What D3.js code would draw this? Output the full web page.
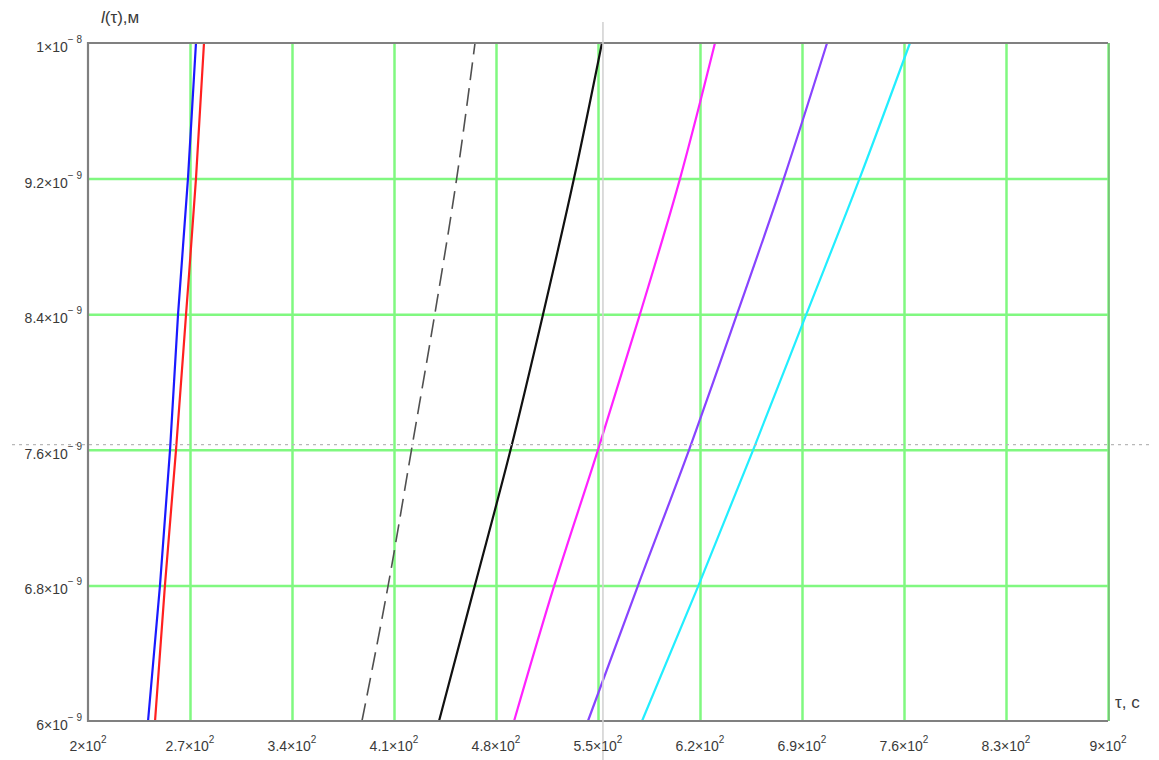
<!DOCTYPE html>
<html>
<head>
<meta charset="utf-8">
<script src="https://cdn.jsdelivr.net/npm/d3@7"></script>
<style>
	body { margin: 0; background: #FFFFFF; }
	text { font-family: "Liberation Sans", Arial, sans-serif; fill: #3a3a3a; }
</style>
</head>
<body>
<div id="vis_container"></div>
<script>
// y levels where the curves were read (metres)
var levels = [6.0e-9, 6.8e-9, 7.6e-9, 8.4e-9, 9.2e-9, 1.0e-8];

// tau (s) at each level, one array per curve
var blueCurve    = [241.2, 249.4, 256.3, 261.8, 268.6, 274.1];
var redCurve     = [246.0, 252.8, 260.4, 267.3, 274.1, 279.6];
var dashedCurve  = [388.0, 406.0, 422.0, 438.0, 453.0, 465.6];
var blackCurve   = [440.9, 465.5, 490.0, 512.3, 533.5, 552.7];
var magentaCurve = [492.4, 520.0, 550.0, 578.8, 606.3, 630.3];
var purpleCurve  = [543.1, 577.5, 612.5, 645.4, 677.5, 707.2];
var cyanCurve    = [580.2, 619.0, 656.5, 693.0, 729.5, 764.1];

var xTicks = [200, 270, 340, 410, 480, 550, 620, 690, 760, 830, 900];
var xTickMant = ["2", "2.7", "3.4", "4.1", "4.8", "5.5", "6.2", "6.9", "7.6", "8.3", "9"];
var yTicks = [6.0e-9, 6.8e-9, 7.6e-9, 8.4e-9, 9.2e-9, 1.0e-8];
var yTickMant = ["6", "6.8", "7.6", "8.4", "9.2", "1"];
var yTickExp = ["\u2212 9", "\u2212 9", "\u2212 9", "\u2212 9", "\u2212 9", "\u2212 8"];

// trace cursor position
var traceX = 553.4;
var traceY = 7.63e-9;

var chart = {};
chart.width = 1159;
chart.height = 760;
chart.margin = {"top": 43, "left": 88, "right": 51, "bottom": 39};

chart.svg = d3.select("#vis_container").append("svg")
	.attr("width", chart.width)
	.attr("height", chart.height)
	.style("background-color", "#FFFFFF");

chart.x = d3.scaleLinear()
	.domain([200, 900])
	.range([chart.margin.left, chart.width - chart.margin.right]);
chart.y = d3.scaleLinear()
	.domain([6e-9, 1e-8])
	.range([chart.height - chart.margin.bottom, chart.margin.top]);

var plotW = chart.x.range()[1] - chart.x.range()[0];
var plotH = chart.y.range()[0] - chart.y.range()[1];

// grid via axes (inner lines only, plus the right edge)
var gx = chart.svg.append("g")
	.attr("transform", "translate(0," + chart.y.range()[0] + ")")
	.call(d3.axisBottom(chart.x).tickValues(xTicks.slice(1)).tickSize(-plotH).tickFormat(""));
var gy = chart.svg.append("g")
	.attr("transform", "translate(" + chart.x.range()[0] + ",0)")
	.call(d3.axisLeft(chart.y).tickValues(yTicks.slice(1, -1)).tickSize(-plotW).tickFormat(""));
[gx, gy].forEach(function(g) {
	g.select(".domain").remove();
	g.selectAll(".tick line").attr("stroke", "#80f880").attr("stroke-width", 2.5);
});

// curves
var line = d3.line()
	.x(function(d) { return chart.x(d[0]); })
	.y(function(d) { return chart.y(d[1]); })
	.curve(d3.curveMonotoneY);

var curves = [
	{data: blueCurve, color: "#1a1aff", width: 2.2},
	{data: redCurve, color: "#ff2020", width: 2.2},
	{data: dashedCurve, color: "#505050", width: 1.6, dash: "18,8"},
	{data: blackCurve, color: "#111111", width: 2.2},
	{data: magentaCurve, color: "#ff22ff", width: 2.2},
	{data: purpleCurve, color: "#8844ff", width: 2.2},
	{data: cyanCurve, color: "#22eeff", width: 2.2}
];
curves.forEach(function(c) {
	chart.svg.append("path")
		.datum(c.data.map(function(v, i) { return [v, levels[i]]; }))
		.attr("d", line)
		.attr("fill", "none")
		.attr("stroke", c.color)
		.attr("stroke-width", c.width)
		.attr("stroke-dasharray", c.dash || null);
});

// frame: left, top, bottom gray; right edge keeps the green grid line
var x0 = chart.x.range()[0], x1 = chart.x.range()[1];
var y0 = chart.y.range()[0], y1 = chart.y.range()[1];
chart.svg.append("path")
	.attr("d", "M" + x1 + "," + y1 + "H" + x0 + "V" + y0 + "H" + x1)
	.attr("fill", "none")
	.attr("stroke", "#808080")
	.attr("stroke-width", 2.2);
chart.svg.append("line")
	.attr("x1", x1 + 1).attr("x2", x1 + 1)
	.attr("y1", y1).attr("y2", y0)
	.attr("stroke", "#6a9a6a").attr("stroke-width", 1);

// trace crosshair
chart.svg.append("line")
	.attr("x1", 12).attr("x2", 1150)
	.attr("y1", chart.y(traceY)).attr("y2", chart.y(traceY))
	.attr("stroke", "#b8b8b8").attr("stroke-width", 1.2)
	.attr("stroke-dasharray", "3,4");
chart.svg.append("line")
	.attr("x1", chart.x(traceX)).attr("x2", chart.x(traceX))
	.attr("y1", 22).attr("y2", 760)
	.attr("stroke", "#d0d0d0").attr("stroke-width", 1.5);

// tick labels
xTicks.forEach(function(t, i) {
	var txt = chart.svg.append("text")
		.attr("x", chart.x(t))
		.attr("y", 751)
		.attr("text-anchor", "middle")
		.attr("font-size", 14);
	txt.append("tspan").text(xTickMant[i] + "\u00d710");
	txt.append("tspan").attr("dy", -8).attr("font-size", 10).text("2");
});
yTicks.forEach(function(t, i) {
	var txt = chart.svg.append("text")
		.attr("x", chart.x.range()[0] - 6)
		.attr("y", chart.y(t) + 9)
		.attr("text-anchor", "end")
		.attr("font-size", 14);
	txt.append("tspan").text(yTickMant[i] + "\u00d710");
	txt.append("tspan").attr("dy", -9).attr("font-size", 10).text(yTickExp[i]);
});

// axis titles
var yt = chart.svg.append("text")
	.attr("x", 101)
	.attr("y", 23)
	.attr("font-size", 17)
	.attr("font-family", "Liberation Serif, serif");
yt.append("tspan").attr("font-style", "italic").text("l");
yt.append("tspan").text("(\u03c4),\u043c");

chart.svg.append("text")
	.attr("x", 1115)
	.attr("y", 708)
	.attr("font-size", 17)
	.attr("font-family", "Liberation Serif, serif")
	.text("\u03c4, \u0441");
</script>
</body>
</html>
